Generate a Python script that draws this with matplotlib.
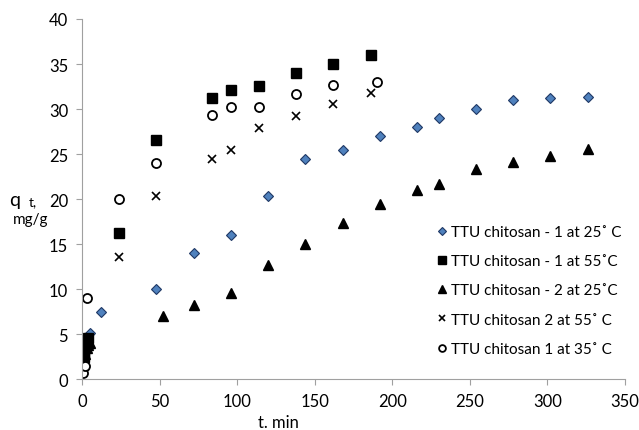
import matplotlib.pyplot as plt

plt.rcParams["font.family"] = ["Lato", "DejaVu Sans"]

# TTU chitosan - 1 at 25 C
t1 = [0.5, 1, 2, 3, 5, 12, 48, 72, 96, 120, 144, 168, 192, 216, 230, 254, 278, 302, 326]
q1 = [1.5, 2.5, 3.5, 4.3, 5.1, 7.4, 10.0, 14.0, 16.0, 20.3, 24.4, 25.4, 27.0, 28.0, 29.0, 30.0, 31.0, 31.2, 31.3]

# TTU chitosan - 1 at 55 C
t2 = [0.5, 1, 1.5, 2, 3, 4, 24, 48, 84, 96, 114, 138, 162, 186]
q2 = [1.6, 2.4, 3.0, 3.6, 4.2, 4.6, 16.2, 26.6, 31.2, 32.1, 32.6, 34.0, 35.0, 36.0]

# TTU chitosan - 2 at 25 C
t3 = [1, 2, 3, 4, 5, 52, 72, 96, 120, 144, 168, 192, 216, 230, 254, 278, 302, 326]
q3 = [2.0, 2.8, 3.4, 3.8, 4.0, 7.0, 8.2, 9.6, 12.7, 15.0, 17.3, 19.5, 21.0, 21.7, 23.3, 24.1, 24.8, 25.6]

# TTU chitosan 2 at 55 C
t4 = [0.5, 1, 2, 3, 4, 24, 48, 84, 96, 114, 138, 162, 186]
q4 = [1.8, 2.6, 3.4, 4.0, 4.4, 13.6, 20.3, 24.4, 25.5, 27.9, 29.2, 30.6, 31.8]

# TTU chitosan 1 at 35 C
t5 = [0.5, 2, 3.5, 24, 48, 84, 96, 114, 138, 162, 190]
q5 = [0.7, 1.5, 9.0, 20.0, 24.0, 29.3, 30.2, 30.2, 31.7, 32.7, 33.0]

labels = [
    "TTU chitosan - 1 at 25\u02da C",
    "TTU chitosan - 1 at 55\u02daC",
    "TTU chitosan - 2 at 25\u02daC",
    "TTU chitosan 2 at 55\u02da C",
    "TTU chitosan 1 at 35\u02da C",
]

fig = plt.figure(figsize=(6.39, 4.31), dpi=100)
ax = fig.add_axes([0.1283, 0.1183, 0.8497, 0.8353])

ax.plot(t1, q1, "D", ms=5, mfc="#4F81BD", mec="#1F3864", mew=0.8, ls="none", label=labels[0])
ax.plot(t2, q2, "s", ms=7, color="black", ls="none", label=labels[1])
ax.plot(t3, q3, "^", ms=7.5, color="black", ls="none", label=labels[2])
ax.plot(t4, q4, "x", ms=6, color="black", mew=1.2, ls="none", label=labels[3])
ax.plot(t5, q5, "o", ms=6.5, mfc="white", mec="black", mew=1.3, ls="none", label=labels[4])

ax.set_xlim(0, 350)
ax.set_ylim(0, 40)
ax.set_xticks(range(0, 351, 50))
ax.set_yticks(range(0, 41, 5))
for side in ("top", "right"):
    ax.spines[side].set_visible(False)
for side in ("left", "bottom"):
    ax.spines[side].set_color("#a0a0a0")
ax.tick_params(direction="out", length=4, color="#a0a0a0", labelsize=12, pad=6)

leg = ax.legend(loc="center left", bbox_to_anchor=(0.652, 0.246), frameon=False,
                fontsize=11, handletextpad=0.2, handlelength=0.8,
                labelspacing=1.0, markerscale=0.75, borderpad=0, borderaxespad=0)

fig.text(0.015, 0.522, "q", fontsize=14)
fig.text(0.045, 0.522, "t,", fontsize=10)
fig.text(0.02, 0.48, "mg/g", fontsize=11)
fig.text(0.435, 0.008, "t. min", fontsize=12, ha="center")

fig.savefig("out.png", dpi=100)
